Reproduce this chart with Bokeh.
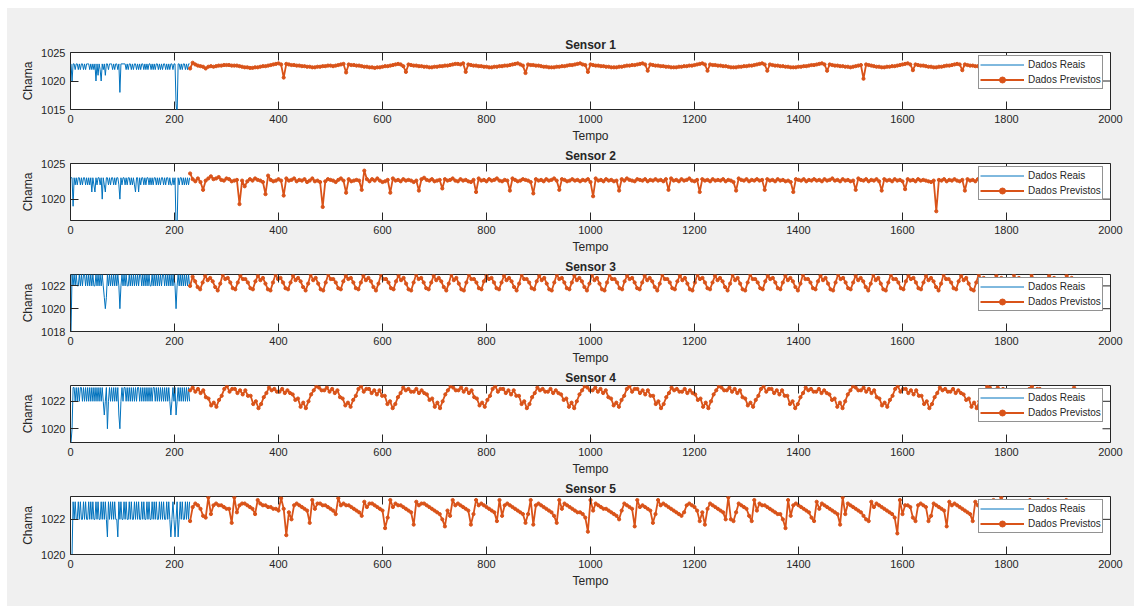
import numpy as np
from bokeh.plotting import figure
from bokeh.layouts import column
from bokeh.models import Range1d, FixedTicker, Legend, LegendItem
from bokeh.embed import file_html
from bokeh.resources import INLINE

BLUE = "#0072BD"
ORANGE = "#D95319"
BG = "#f0f0f0"
AX = "#262626"
FONT = "Liberation Sans"

XTICKS = [0, 200, 400, 600, 800, 1000, 1200, 1400, 1600, 1800, 2000]
PRED_START, PRED_END = 230, 1935

# measured readings, one every 2 time steps starting at t=1
S1_REAL = [1023, 1020, 1023, 1023, 1022, 1023, 1023, 1022, 1023, 1022,
           1023, 1023, 1022, 1023, 1022, 1023, 1023, 1023, 1022, 1023,
           1022, 1023, 1022, 1023, 1020, 1023, 1021, 1023, 1022, 1020,
           1023, 1022, 1023, 1021, 1023, 1023, 1022, 1023, 1023, 1023,
           1022, 1023, 1022, 1023, 1023, 1022, 1023, 1018, 1023, 1023,
           1023, 1023, 1023, 1022, 1023, 1022, 1023, 1023, 1022, 1023,
           1022, 1023, 1023, 1022, 1023, 1022, 1023, 1022, 1023, 1023,
           1022, 1023, 1022, 1023, 1022, 1023, 1023, 1022, 1023, 1022,
           1023, 1022, 1023, 1023, 1022, 1023, 1022, 1023, 1022, 1023,
           1023, 1022, 1023, 1022, 1023, 1022, 1023, 1023, 1022, 1023,
           1023, 1016, 1014, 1023, 1023, 1022, 1023, 1022, 1023, 1023,
           1022, 1023, 1022, 1023, 1023]
S2_REAL = [1023, 1023, 1019, 1023, 1022, 1023, 1022, 1023, 1023, 1022,
           1023, 1022, 1023, 1023, 1022, 1023, 1022, 1023, 1022, 1023,
           1021, 1023, 1022, 1021, 1023, 1022, 1023, 1023, 1022, 1023,
           1020, 1023, 1022, 1021, 1023, 1023, 1022, 1023, 1022, 1023,
           1023, 1022, 1023, 1022, 1023, 1023, 1022, 1020, 1023, 1022,
           1023, 1023, 1022, 1023, 1022, 1023, 1023, 1022, 1023, 1022,
           1023, 1022, 1021, 1023, 1023, 1021, 1023, 1022, 1023, 1023,
           1022, 1023, 1022, 1023, 1023, 1022, 1023, 1022, 1023, 1022,
           1023, 1023, 1022, 1023, 1022, 1023, 1022, 1023, 1023, 1022,
           1023, 1022, 1023, 1023, 1022, 1023, 1022, 1022, 1023, 1022,
           1023, 1016, 1016, 1023, 1022, 1023, 1023, 1022, 1023, 1022,
           1023, 1022, 1023, 1022, 1023]
S3_REAL = [1018, 1023, 1022, 1023, 1022, 1023, 1022, 1022, 1023, 1022,
           1023, 1022, 1023, 1023, 1022, 1023, 1022, 1023, 1022, 1023,
           1022, 1023, 1022, 1022, 1023, 1022, 1023, 1022, 1023, 1022,
           1023, 1022, 1021, 1020, 1021, 1023, 1022, 1023, 1022, 1023,
           1022, 1023, 1022, 1023, 1022, 1023, 1022, 1020, 1022, 1023,
           1022, 1023, 1022, 1023, 1022, 1022, 1023, 1022, 1023, 1022,
           1023, 1022, 1023, 1022, 1023, 1022, 1023, 1023, 1022, 1023,
           1022, 1023, 1022, 1023, 1022, 1023, 1022, 1022, 1023, 1022,
           1023, 1022, 1023, 1022, 1023, 1022, 1023, 1022, 1023, 1023,
           1022, 1023, 1022, 1023, 1022, 1023, 1022, 1023, 1022, 1023,
           1022, 1020, 1022, 1023, 1022, 1023, 1022, 1023, 1022, 1023,
           1022, 1023, 1022, 1023, 1022]
S4_REAL = [1019, 1020, 1023, 1023, 1022, 1023, 1022, 1023, 1022, 1023,
           1023, 1022, 1023, 1022, 1023, 1022, 1023, 1022, 1023, 1022,
           1023, 1022, 1023, 1022, 1023, 1022, 1023, 1022, 1023, 1022,
           1023, 1022, 1021, 1022, 1023, 1020, 1022, 1023, 1022, 1023,
           1022, 1023, 1022, 1023, 1022, 1023, 1021, 1020, 1022, 1023,
           1022, 1023, 1023, 1022, 1023, 1022, 1023, 1022, 1023, 1022,
           1023, 1022, 1023, 1022, 1023, 1023, 1022, 1023, 1022, 1023,
           1022, 1023, 1022, 1023, 1022, 1023, 1022, 1023, 1022, 1023,
           1023, 1022, 1023, 1022, 1023, 1022, 1023, 1022, 1023, 1022,
           1023, 1022, 1023, 1022, 1023, 1022, 1021, 1022, 1023, 1022,
           1023, 1021, 1022, 1023, 1022, 1023, 1022, 1023, 1022, 1023,
           1022, 1023, 1022, 1023, 1022]
S5_REAL = [1020, 1020, 1023, 1022, 1023, 1022, 1022, 1023, 1022, 1023,
           1022, 1022, 1023, 1022, 1023, 1022, 1022, 1023, 1022, 1023,
           1022, 1023, 1022, 1022, 1023, 1022, 1023, 1022, 1022, 1023,
           1022, 1023, 1022, 1023, 1022, 1021, 1023, 1022, 1023, 1022,
           1023, 1022, 1023, 1022, 1022, 1021, 1023, 1022, 1023, 1022,
           1022, 1023, 1022, 1023, 1022, 1022, 1023, 1022, 1023, 1022,
           1022, 1023, 1022, 1023, 1022, 1023, 1022, 1022, 1023, 1022,
           1023, 1022, 1022, 1023, 1022, 1023, 1022, 1022, 1023, 1022,
           1023, 1022, 1023, 1022, 1022, 1023, 1022, 1023, 1022, 1023,
           1022, 1022, 1023, 1022, 1023, 1022, 1021, 1022, 1023, 1022,
           1021, 1022, 1023, 1021, 1022, 1023, 1022, 1023, 1022, 1022,
           1023, 1022, 1023, 1022, 1023]

# forecasts, evenly spaced from t=230 to t=1935
S1_PRED = [1022.2, 1023.2, 1022.9, 1022.7, 1022.6, 1022.5, 1022.2, 1022.5, 1022.6, 1022.5,
           1022.6, 1022.7, 1022.7, 1022.8, 1022.8, 1022.8, 1022.7, 1022.7, 1022.7, 1022.6,
           1022.5, 1022.4, 1022.4, 1022.3, 1022.3, 1022.4, 1022.4, 1022.5, 1022.6, 1022.6,
           1022.7, 1022.8, 1022.9, 1023.0, 1023.1, 1022.9, 1020.6, 1023.0, 1022.9, 1022.8,
           1022.8, 1022.7, 1022.7, 1022.6, 1022.6, 1022.5, 1022.5, 1022.4, 1022.4, 1022.5,
           1022.5, 1022.6, 1022.6, 1022.7, 1022.7, 1022.6, 1022.7, 1022.8, 1022.9, 1023.0,
           1021.5, 1022.9, 1022.8, 1022.8, 1022.7, 1022.7, 1022.6, 1022.5, 1022.5, 1022.4,
           1022.4, 1022.3, 1022.4, 1022.4, 1022.5, 1022.6, 1022.6, 1022.7, 1022.8, 1022.9,
           1023.0, 1022.9, 1022.6, 1021.6, 1022.9, 1022.8, 1022.7, 1022.7, 1022.6, 1022.6,
           1022.5, 1022.5, 1022.4, 1022.4, 1022.5, 1022.5, 1022.6, 1022.6, 1022.7, 1022.7,
           1022.8, 1022.9, 1023.0, 1023.0, 1022.9, 1023.1, 1021.6, 1022.9, 1022.8, 1022.7,
           1022.7, 1022.6, 1022.6, 1022.5, 1022.5, 1022.4, 1022.4, 1022.5, 1022.5, 1022.6,
           1022.6, 1022.7, 1022.7, 1022.8, 1022.9, 1023.0, 1023.1, 1022.9, 1022.7, 1021.4,
           1022.9, 1022.8, 1022.8, 1022.7, 1022.7, 1022.6, 1022.5, 1022.5, 1022.4, 1022.4,
           1022.4, 1022.5, 1022.5, 1022.6, 1022.6, 1022.7, 1022.8, 1022.8, 1022.9, 1023.0,
           1023.1, 1022.9, 1022.8, 1021.6, 1022.9, 1022.8, 1022.7, 1022.7, 1022.6, 1022.6,
           1022.5, 1022.5, 1022.4, 1022.4, 1022.4, 1022.5, 1022.5, 1022.6, 1022.7, 1022.7,
           1022.8, 1022.8, 1022.9, 1023.0, 1023.1, 1022.9, 1021.8, 1022.9, 1022.8, 1022.7,
           1022.7, 1022.6, 1022.6, 1022.5, 1022.5, 1022.4, 1022.4, 1022.4, 1022.5, 1022.5,
           1022.6, 1022.6, 1022.7, 1022.7, 1022.8, 1022.9, 1023.0, 1023.1, 1022.9, 1021.8,
           1022.9, 1022.8, 1022.8, 1022.7, 1022.7, 1022.6, 1022.6, 1022.5, 1022.4, 1022.4,
           1022.4, 1022.5, 1022.5, 1022.6, 1022.6, 1022.7, 1022.7, 1022.8, 1022.9, 1023.0,
           1023.1, 1022.9, 1021.8, 1022.9, 1022.8, 1022.7, 1022.7, 1022.6, 1022.6, 1022.5,
           1022.5, 1022.4, 1022.4, 1022.4, 1022.5, 1022.5, 1022.6, 1022.6, 1022.7, 1022.8,
           1022.8, 1022.9, 1023.0, 1023.1, 1022.9, 1021.8, 1022.9, 1022.8, 1022.7, 1022.7,
           1022.6, 1022.6, 1022.5, 1022.5, 1022.4, 1022.5, 1022.6, 1022.7, 1022.8, 1020.4,
           1022.9, 1022.8, 1022.7, 1022.6, 1022.5, 1022.5, 1022.4, 1022.4, 1022.5, 1022.5,
           1022.6, 1022.6, 1022.7, 1022.8, 1022.9, 1023.0, 1023.1, 1022.9, 1021.9, 1022.9,
           1022.8, 1022.7, 1022.7, 1022.6, 1022.5, 1022.5, 1022.4, 1022.4, 1022.5, 1022.5,
           1022.6, 1022.7, 1022.7, 1022.8, 1022.9, 1023.0, 1022.9, 1021.9, 1022.9, 1022.8,
           1022.7, 1022.7, 1022.6, 1022.6, 1022.5, 1022.5, 1022.4, 1022.4, 1022.5, 1022.5,
           1022.6, 1022.6, 1022.7, 1022.8, 1022.9, 1023.0, 1022.9, 1021.9, 1022.9, 1022.8,
           1022.7, 1022.7, 1022.6, 1022.5, 1022.5, 1022.4, 1022.4, 1022.5, 1022.5, 1022.6,
           1022.6, 1022.7, 1022.8, 1022.9, 1023.0, 1022.9, 1021.9, 1022.9, 1022.8, 1022.7,
           1022.7, 1022.6]
S2_PRED = [1023.6, 1022.8, 1022.5, 1022.9, 1022.4, 1021.3, 1022.6, 1022.9, 1023.2, 1022.8,
           1022.9, 1023.1, 1022.7, 1022.6, 1022.9, 1022.8, 1022.5, 1022.6, 1022.7, 1019.3,
           1022.6, 1021.8, 1022.5, 1022.8, 1022.6, 1022.9, 1022.7, 1022.6, 1022.4, 1020.7,
           1023.3, 1022.7, 1022.5, 1022.6, 1022.8, 1022.6, 1020.5, 1022.9, 1022.6, 1022.7,
           1022.9, 1022.5, 1022.7, 1022.6, 1022.8, 1022.4, 1022.6, 1022.9, 1022.5, 1022.6,
           1022.4, 1018.9, 1022.5, 1022.8, 1022.7, 1022.6, 1022.4, 1022.7, 1022.9, 1022.6,
           1020.9, 1022.8, 1022.5, 1022.6, 1022.7, 1022.6, 1021.3, 1024.0, 1022.8, 1022.5,
           1022.8, 1022.6, 1022.9, 1022.6, 1022.4, 1022.5, 1022.7, 1020.9, 1022.9, 1022.6,
           1022.7, 1022.5, 1022.8, 1022.6, 1022.7, 1022.6, 1022.4, 1022.6, 1021.2, 1022.8,
           1023.0, 1022.7, 1022.6, 1022.8, 1022.5, 1022.6, 1022.7, 1021.5, 1022.8, 1022.6,
           1022.7, 1022.9, 1022.6, 1022.5, 1022.8, 1022.6, 1022.7, 1022.5, 1022.4, 1022.7,
           1021.0, 1022.9, 1022.6, 1022.7, 1022.5, 1022.8, 1022.6, 1022.7, 1022.9, 1022.6,
           1022.5, 1022.7, 1022.6, 1021.2, 1022.9, 1022.7, 1022.5, 1022.6, 1022.8, 1022.7,
           1022.6, 1022.4, 1020.8, 1022.8, 1022.6, 1022.7, 1022.5, 1022.8, 1022.6, 1022.7,
           1022.9, 1022.6, 1021.3, 1022.8, 1022.7, 1022.5, 1022.6, 1022.8, 1022.6, 1022.7,
           1022.5, 1022.7, 1022.6, 1022.8, 1022.4, 1020.4, 1022.9, 1022.6, 1022.7, 1022.5,
           1022.8, 1022.6, 1022.7, 1022.5, 1022.6, 1021.2, 1022.8, 1022.6, 1022.9, 1022.7,
           1022.6, 1022.5, 1022.8, 1022.7, 1022.6, 1022.8, 1022.5, 1022.7, 1022.6, 1022.8,
           1022.6, 1022.7, 1022.5, 1022.8, 1021.3, 1022.9, 1022.6, 1022.7, 1022.5, 1022.8,
           1022.6, 1022.7, 1022.9, 1022.6, 1022.5, 1022.7, 1021.0, 1022.8, 1022.6, 1022.7,
           1022.5, 1022.8, 1022.6, 1022.7, 1022.6, 1022.8, 1022.5, 1022.7, 1022.6, 1022.4,
           1021.2, 1022.9, 1022.7, 1022.6, 1022.8, 1022.5, 1022.7, 1022.6, 1022.8, 1022.6,
           1022.7, 1021.3, 1022.8, 1022.6, 1022.7, 1022.5, 1022.8, 1022.6, 1022.7, 1022.5,
           1022.6, 1022.4, 1021.0, 1022.8, 1022.7, 1022.6, 1022.8, 1022.5, 1022.7, 1022.6,
           1022.8, 1022.6, 1022.7, 1022.5, 1022.8, 1022.6, 1022.7, 1022.9, 1022.6, 1022.7,
           1022.5, 1022.8, 1022.6, 1022.7, 1022.5, 1022.6, 1021.3, 1022.9, 1022.7, 1022.6,
           1022.8, 1022.5, 1022.7, 1022.6, 1022.8, 1022.5, 1021.2, 1022.8, 1022.6, 1022.7,
           1022.5, 1022.8, 1022.6, 1022.7, 1022.5, 1021.4, 1022.8, 1022.6, 1022.7, 1022.5,
           1022.8, 1022.6, 1022.7, 1022.6, 1022.5, 1022.4, 1022.6, 1018.3, 1022.7, 1022.6,
           1022.8, 1022.5, 1022.7, 1022.6, 1022.8, 1022.6, 1022.5, 1022.7, 1021.2, 1022.8,
           1022.6, 1022.7, 1022.5, 1022.8, 1022.6, 1022.7, 1022.5, 1022.8, 1022.6, 1022.7,
           1022.5, 1022.6, 1022.8, 1022.6, 1022.7, 1022.5, 1022.8, 1022.6, 1022.7, 1022.5,
           1022.6, 1022.8, 1022.6, 1022.7, 1022.5, 1022.8, 1022.6, 1022.7, 1022.5, 1022.6,
           1022.8, 1022.6, 1022.7, 1022.5, 1022.8, 1022.6, 1022.7, 1022.5, 1022.6, 1022.8,
           1022.6, 1022.7]
S3_PRED = [1022.0, 1022.8, 1022.4, 1021.9, 1021.7, 1022.3, 1022.9,
           1022.5, 1022.7, 1022.4, 1021.9, 1021.6, 1022.2, 1023.0,
           1022.6, 1022.7, 1022.3, 1021.8, 1021.7, 1022.3, 1022.9,
           1022.6, 1022.6, 1022.3, 1021.8, 1021.7, 1022.4, 1022.9,
           1022.5, 1022.7, 1022.2, 1021.7, 1021.6, 1022.3, 1023.0,
           1022.6, 1022.7, 1022.3, 1021.8, 1021.7, 1022.3, 1022.9,
           1022.5, 1022.7, 1022.4, 1021.9, 1021.6, 1022.2, 1023.0,
           1022.5, 1022.7, 1022.2, 1021.7, 1021.6, 1022.3, 1023.0,
           1022.6, 1022.6, 1022.3, 1021.8, 1021.7, 1022.4, 1022.9,
           1022.6, 1022.7, 1022.3, 1021.8, 1021.7, 1022.3, 1022.9,
           1022.5, 1022.7, 1022.4, 1021.9, 1021.6, 1022.2, 1023.0,
           1022.6, 1022.6, 1022.3, 1021.8, 1021.7, 1022.4, 1022.9,
           1022.5, 1022.7, 1022.2, 1021.7, 1021.6, 1022.3, 1023.0,
           1022.6, 1022.7, 1022.3, 1021.8, 1021.7, 1022.3, 1022.9,
           1022.5, 1022.7, 1022.4, 1021.9, 1021.6, 1022.2, 1023.0,
           1022.5, 1022.7, 1022.2, 1021.7, 1021.6, 1022.3, 1023.0,
           1022.6, 1022.6, 1022.3, 1021.8, 1021.7, 1022.4, 1022.9,
           1022.6, 1022.7, 1022.3, 1021.8, 1021.7, 1022.3, 1022.9,
           1022.5, 1022.7, 1022.4, 1021.9, 1021.6, 1022.2, 1023.0,
           1022.6, 1022.6, 1022.3, 1021.8, 1021.7, 1022.4, 1022.9,
           1022.5, 1022.7, 1022.2, 1021.7, 1021.6, 1022.3, 1023.0,
           1022.6, 1022.7, 1022.3, 1021.8, 1021.7, 1022.3, 1022.9,
           1022.5, 1022.7, 1022.4, 1021.9, 1021.6, 1022.2, 1023.0,
           1022.5, 1022.7, 1022.2, 1021.7, 1021.6, 1022.3, 1023.0,
           1022.6, 1022.6, 1022.3, 1021.8, 1021.7, 1022.4, 1022.9,
           1022.6, 1022.7, 1022.3, 1021.8, 1021.7, 1022.3, 1022.9,
           1022.5, 1022.7, 1022.4, 1021.9, 1021.6, 1022.2, 1023.0,
           1022.6, 1022.6, 1022.3, 1021.8, 1021.7, 1022.4, 1022.9,
           1022.5, 1022.7, 1022.2, 1021.7, 1021.6, 1022.3, 1023.0,
           1022.6, 1022.7, 1022.3, 1021.8, 1021.7, 1022.3, 1022.9,
           1022.5, 1022.7, 1022.4, 1021.9, 1021.6, 1022.2, 1023.0,
           1022.5, 1022.7, 1022.2, 1021.7, 1021.6, 1022.3, 1023.0,
           1022.6, 1022.6, 1022.3, 1021.8, 1021.7, 1022.4, 1022.9,
           1022.6, 1022.7, 1022.3, 1021.8, 1021.7, 1022.3, 1022.9,
           1022.5, 1022.7, 1022.4, 1021.9, 1021.6, 1022.2, 1023.0,
           1022.6, 1022.6, 1022.3, 1021.8, 1021.7, 1022.4, 1022.9,
           1022.5, 1022.7, 1022.2, 1021.7, 1021.6, 1022.3, 1023.0,
           1022.6, 1022.7, 1022.3, 1021.8, 1021.7, 1022.3, 1022.9,
           1022.5, 1022.7, 1022.4, 1021.9, 1021.6, 1022.2, 1023.0,
           1022.5, 1022.7, 1022.2, 1021.7, 1021.6, 1022.3, 1023.0,
           1022.6, 1022.6, 1022.3, 1021.8, 1021.7, 1022.4, 1022.9,
           1022.6, 1022.7, 1022.3, 1021.8, 1021.7, 1022.3, 1022.9,
           1022.5, 1022.7, 1022.4, 1021.9, 1021.6, 1022.2, 1023.0,
           1022.6, 1022.6, 1022.3, 1021.8, 1021.7, 1022.4, 1022.9,
           1022.5, 1022.7, 1022.2, 1021.7, 1021.6, 1022.3, 1023.0,
           1022.6, 1022.7, 1022.3, 1021.8, 1021.7, 1022.3, 1022.9,
           1022.5, 1022.7, 1022.4, 1021.9, 1021.6, 1022.2, 1023.0,
           1022.5, 1022.7, 1022.2, 1021.7, 1021.6, 1022.3, 1023.0,
           1022.6, 1022.6, 1022.3, 1021.8, 1021.7, 1022.4, 1022.9,
           1022.6, 1022.7, 1022.3, 1021.8, 1021.7, 1022.3, 1022.9,
           1022.6, 1022.7, 1022.3, 1021.8]
S4_PRED = [1022.8, 1023.0, 1022.7, 1022.9, 1022.6, 1022.8, 1022.3, 1022.2, 1021.7, 1021.9, 1021.6, 1022.1, 1022.4, 1022.9, 1023.1, 1022.7, 1022.9,
           1022.9, 1022.6, 1022.8, 1022.5, 1022.8, 1022.4, 1022.4, 1021.8, 1022.0, 1021.5, 1021.8, 1022.3, 1022.6, 1023.0, 1022.8, 1022.9, 1022.7,
           1022.7, 1022.9, 1022.6, 1022.8, 1022.6, 1022.5, 1022.1, 1022.2, 1021.6, 1021.9, 1021.5, 1022.0, 1022.5, 1022.8, 1023.1, 1023.0, 1022.8,
           1022.8, 1023.0, 1022.7, 1022.9, 1022.6, 1022.8, 1022.3, 1022.2, 1021.7, 1021.9, 1021.6, 1022.1, 1022.4, 1022.9, 1023.1, 1022.7, 1022.9,
           1022.9, 1022.6, 1022.8, 1022.5, 1022.8, 1022.4, 1022.4, 1021.8, 1022.0, 1021.5, 1021.8, 1022.3, 1022.6, 1023.0, 1022.8, 1022.9, 1022.7,
           1022.7, 1022.9, 1022.6, 1022.8, 1022.6, 1022.5, 1022.1, 1022.2, 1021.6, 1021.9, 1021.5, 1022.0, 1022.5, 1022.8, 1023.1, 1023.0, 1022.8,
           1022.8, 1023.0, 1022.7, 1022.9, 1022.6, 1022.8, 1022.3, 1022.2, 1021.7, 1021.9, 1021.6, 1022.1, 1022.4, 1022.9, 1023.1, 1022.7, 1022.9,
           1022.9, 1022.6, 1022.8, 1022.5, 1022.8, 1022.4, 1022.4, 1021.8, 1022.0, 1021.5, 1021.8, 1022.3, 1022.6, 1023.0, 1022.8, 1022.9, 1022.7,
           1022.7, 1022.9, 1022.6, 1022.8, 1022.6, 1022.5, 1022.1, 1022.2, 1021.6, 1021.9, 1021.5, 1022.0, 1022.5, 1022.8, 1023.1, 1023.0, 1022.8,
           1022.8, 1023.0, 1022.7, 1022.9, 1022.6, 1022.8, 1022.3, 1022.2, 1021.7, 1021.9, 1021.6, 1022.1, 1022.4, 1022.9, 1023.1, 1022.7, 1022.9,
           1022.9, 1022.6, 1022.8, 1022.5, 1022.8, 1022.4, 1022.4, 1021.8, 1022.0, 1021.5, 1021.8, 1022.3, 1022.6, 1023.0, 1022.8, 1022.9, 1022.7,
           1022.7, 1022.9, 1022.6, 1022.8, 1022.6, 1022.5, 1022.1, 1022.2, 1021.6, 1021.9, 1021.5, 1022.0, 1022.5, 1022.8, 1023.1, 1023.0, 1022.8,
           1022.8, 1023.0, 1022.7, 1022.9, 1022.6, 1022.8, 1022.3, 1022.2, 1021.7, 1021.9, 1021.6, 1022.1, 1022.4, 1022.9, 1023.1, 1022.7, 1022.9,
           1022.9, 1022.6, 1022.8, 1022.5, 1022.8, 1022.4, 1022.4, 1021.8, 1022.0, 1021.5, 1021.8, 1022.3, 1022.6, 1023.0, 1022.8, 1022.9, 1022.7,
           1022.7, 1022.9, 1022.6, 1022.8, 1022.6, 1022.5, 1022.1, 1022.2, 1021.6, 1021.9, 1021.5, 1022.0, 1022.5, 1022.8, 1023.1, 1023.0, 1022.8,
           1022.8, 1023.0, 1022.7, 1022.9, 1022.6, 1022.8, 1022.3, 1022.2, 1021.7, 1021.9, 1021.6, 1022.1, 1022.4, 1022.9, 1023.1, 1022.7, 1022.9,
           1022.9, 1022.6, 1022.8, 1022.5, 1022.8, 1022.4, 1022.4, 1021.8, 1022.0, 1021.5, 1021.8, 1022.3, 1022.6, 1023.0, 1022.8, 1022.9, 1022.7,
           1022.7, 1022.9, 1022.6, 1022.8, 1022.6, 1022.5, 1022.1, 1022.2, 1021.6, 1021.9, 1021.5, 1022.0, 1022.5, 1022.8, 1023.1, 1023.0, 1022.8,
           1022.8, 1023.0, 1022.7, 1022.9, 1022.6, 1022.8, 1022.3, 1022.2, 1021.7, 1021.9, 1021.6, 1022.1, 1022.4, 1022.9, 1023.1, 1022.7, 1022.9,
           1022.9, 1022.6, 1022.8, 1022.5, 1022.8, 1022.4, 1022.4, 1021.8, 1022.0, 1021.5, 1021.8, 1022.3, 1022.6, 1023.0, 1022.8]
S5_PRED = [1021.9, 1022.7, 1022.9, 1022.8, 1022.6, 1022.2, 1022.1, 1023.25, 1022.3, 1022.8,
           1022.9, 1022.8, 1022.8, 1022.7, 1022.6, 1022.6, 1021.8, 1023.25, 1022.4, 1022.8,
           1022.9, 1022.9, 1022.8, 1022.7, 1022.6, 1022.3, 1023.1, 1022.9, 1022.8, 1022.8,
           1022.7, 1022.7, 1022.6, 1022.6, 1022.5, 1023.2, 1022.6, 1021.1, 1022.4, 1022.0,
           1022.8, 1022.9, 1022.8, 1022.7, 1022.6, 1022.5, 1021.8, 1023.1, 1022.6, 1022.9,
           1022.9, 1022.8, 1022.8, 1022.7, 1022.6, 1022.5, 1022.3, 1023.2, 1022.8, 1022.9,
           1022.8, 1022.8, 1022.7, 1022.6, 1022.5, 1022.4, 1022.2, 1023.0, 1022.7, 1022.9,
           1022.9, 1022.8, 1022.7, 1022.6, 1022.5, 1021.5, 1022.1, 1023.1, 1022.7, 1022.9,
           1022.8, 1022.8, 1022.7, 1022.6, 1022.5, 1022.4, 1021.7, 1023.0, 1022.8, 1022.9,
           1022.9, 1022.8, 1022.7, 1022.6, 1022.5, 1022.4, 1022.3, 1022.0, 1021.6, 1022.5,
           1022.2, 1023.1, 1022.8, 1022.9, 1022.8, 1022.7, 1022.6, 1022.5, 1021.7, 1022.3,
           1023.1, 1022.8, 1022.9, 1022.8, 1022.7, 1022.6, 1022.5, 1022.4, 1021.9, 1023.1,
           1022.2, 1022.8, 1022.9, 1022.8, 1022.7, 1022.6, 1022.5, 1022.4, 1022.3, 1021.8,
           1022.3, 1023.1, 1021.7, 1022.8, 1022.9, 1022.8, 1022.7, 1022.6, 1022.5, 1022.4,
           1022.2, 1021.8, 1023.1, 1022.6, 1022.9, 1022.8, 1022.7, 1022.6, 1022.5, 1022.4,
           1022.4, 1022.3, 1022.1, 1021.3, 1023.1, 1022.5, 1022.9, 1022.8, 1022.7, 1022.6,
           1022.6, 1022.5, 1022.4, 1022.3, 1022.2, 1022.0, 1022.5, 1022.9, 1022.8, 1022.7,
           1022.6, 1021.6, 1023.1, 1022.7, 1022.8, 1022.7, 1022.6, 1022.5, 1021.8, 1022.3,
           1023.1, 1022.8, 1022.9, 1022.8, 1022.7, 1022.6, 1022.5, 1022.4, 1022.3, 1022.2,
           1022.4, 1022.8, 1022.9, 1022.8, 1022.7, 1022.5, 1021.9, 1022.4, 1021.7, 1022.6,
           1022.9, 1022.8, 1022.7, 1022.6, 1022.5, 1022.4, 1022.0, 1023.25, 1022.0, 1021.9,
           1022.4, 1022.9, 1022.8, 1022.7, 1022.6, 1022.2, 1021.9, 1023.1, 1022.5, 1022.9,
           1022.8, 1022.8, 1022.7, 1022.6, 1022.5, 1022.4, 1022.3, 1022.3, 1022.0, 1021.5,
           1023.1, 1022.2, 1022.8, 1022.9, 1022.8, 1022.7, 1022.6, 1022.5, 1022.4, 1022.1,
           1021.9, 1023.0, 1022.6, 1022.9, 1022.8, 1022.7, 1022.6, 1022.5, 1022.4, 1022.3,
           1021.7, 1023.25, 1022.3, 1022.9, 1022.8, 1022.7, 1022.6, 1022.5, 1022.4, 1022.2,
           1022.0, 1021.9, 1023.0, 1022.7, 1022.9, 1022.8, 1022.7, 1022.6, 1022.5, 1022.4,
           1022.3, 1022.1, 1021.2, 1023.1, 1022.3, 1022.8, 1022.8, 1022.7, 1022.1, 1021.9,
           1022.8, 1022.9, 1022.8, 1022.7, 1021.9, 1022.2, 1022.9, 1022.8, 1022.7, 1022.6,
           1022.5, 1021.6, 1023.0, 1022.8, 1022.9, 1022.8, 1022.7, 1022.6, 1022.5, 1022.4,
           1022.3, 1021.9, 1023.0, 1022.8, 1022.9, 1022.8, 1022.7, 1022.6, 1022.8, 1023.1,
           1022.6, 1023.0, 1023.25, 1022.7, 1022.8, 1022.8, 1022.7, 1022.6, 1022.9, 1023.0,
           1022.9, 1023.0, 1022.8, 1023.1, 1022.9, 1023.0, 1022.9, 1022.8, 1023.0, 1022.9,
           1023.1, 1022.9, 1023.0, 1022.8, 1022.9, 1023.0, 1022.9, 1023.1, 1022.9, 1023.0,
           1022.9, 1022.8]

SENSORS = [
    ("Sensor 1", S1_REAL, S1_PRED, (1015, 1025), [1015, 1020, 1025]),
    ("Sensor 2", S2_REAL, S2_PRED, (1017, 1025), [1020, 1025]),
    ("Sensor 3", S3_REAL, S3_PRED, (1018, 1023), [1018, 1020, 1022]),
    ("Sensor 4", S4_REAL, S4_PRED, (1019, 1023.15), [1020, 1022]),
    ("Sensor 5", S5_REAL, S5_PRED, (1020, 1023.3), [1020, 1022]),
]
# (top border, frame height, bottom border) of each panel
BOXES = [(44, 57, 36), (17, 57, 36), (18, 57, 36), (17, 57, 36), (17, 58, 55)]
TICK_LEN = 8


def style_axis(ax, ticks, label):
    ax.ticker = FixedTicker(ticks=ticks)
    ax.major_tick_in = TICK_LEN
    ax.major_tick_out = 0
    ax.minor_tick_in = 0
    ax.minor_tick_out = 0
    ax.axis_line_color = None
    ax.major_tick_line_color = AX
    ax.major_label_text_color = AX
    ax.major_label_text_font = FONT
    ax.major_label_text_font_size = "11px"
    ax.major_label_standoff = 5
    ax.axis_label = label
    ax.axis_label_text_font = FONT
    ax.axis_label_text_font_size = "12px"
    ax.axis_label_text_font_style = "normal"
    ax.axis_label_text_color = AX
    ax.axis_label_standoff = 3


def sensor_panel(title, real, pred, ylim, yticks, box):
    top, fh, bottom = box
    p = figure(frame_width=1040, frame_height=fh,
               x_range=Range1d(0, 2000), y_range=Range1d(*ylim),
               output_backend="svg", toolbar_location=None,
               min_border_left=63, min_border_right=24,
               min_border_top=top, min_border_bottom=bottom,
               title=title)
    p.border_fill_color = BG
    p.background_fill_color = "white"
    p.outline_line_color = AX
    p.outline_line_width = 1
    p.xgrid.visible = False
    p.ygrid.visible = False

    p.title.align = "center"
    p.title.text_font = FONT
    p.title.text_font_size = "12px"
    p.title.text_font_style = "bold"
    p.title.text_color = AX
    p.title.standoff = 2

    style_axis(p.xaxis[0], XTICKS, "Tempo")
    style_axis(p.yaxis[0], yticks, "Chama")

    t_real = np.arange(len(real)) * 2 + 1
    t_pred = np.linspace(PRED_START, PRED_END, len(pred))
    r_real = p.line(t_real, real, line_color=BLUE, line_width=1)
    r_pline = p.line(t_pred, pred, line_color=ORANGE, line_width=1.8)
    r_pdot = p.scatter(t_pred, pred, marker="circle", size=3.2,
                       fill_color=ORANGE, line_color=ORANGE)

    # inward tick marks along the top and right edges of the box
    x1 = p.x_range.end
    y1 = p.y_range.end
    p.ray(x=XTICKS, y=[y1] * len(XTICKS), length=TICK_LEN, length_units="screen",
          angle=-np.pi / 2, line_color=AX, line_width=1)
    p.ray(x=[x1] * len(yticks), y=yticks, length=TICK_LEN, length_units="screen",
          angle=np.pi, line_color=AX, line_width=1)

    legend = Legend(items=[LegendItem(label="Dados Reais", renderers=[r_real]),
                           LegendItem(label="Dados Previstos", renderers=[r_pline, r_pdot])],
                    location=(908, fh - 37))
    legend.padding = 1
    legend.spacing = 0
    legend.margin = 0
    legend.glyph_width = 44
    legend.glyph_height = 15
    legend.label_height = 15
    legend.label_standoff = 4
    legend.label_text_font = FONT
    legend.label_text_font_size = "10px"
    legend.label_text_color = AX
    legend.border_line_color = AX
    legend.border_line_width = 1
    legend.background_fill_color = "white"
    legend.background_fill_alpha = 1
    p.add_layout(legend)
    return p


panels = [sensor_panel(name, real, pred, ylim, yticks, box)
          for (name, real, pred, ylim, yticks), box in zip(SENSORS, BOXES)]
page = column(*panels, spacing=0, margin=(8, 0, 0, 7),
              styles={"background-color": BG})

open("out.html", "w").write(file_html(page, INLINE))
